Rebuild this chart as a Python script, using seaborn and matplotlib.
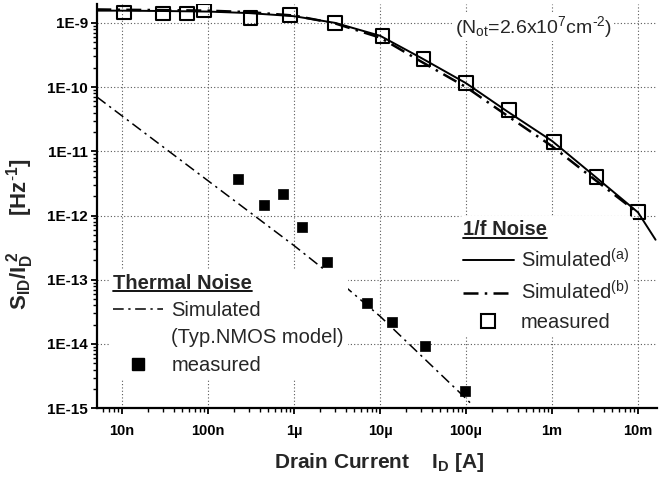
import matplotlib
matplotlib.use("Agg")
import matplotlib.pyplot as plt
from matplotlib.lines import Line2D
import seaborn as sns
import numpy as np
import pandas as pd

# ---- data ----
# 1/f noise, simulated (a) - solid
fa_x = [5e-9, 1e-8, 3e-8, 1e-7, 3e-7, 1e-6, 3e-6, 1e-5, 3e-5, 1e-4, 3e-4, 1e-3, 3e-3, 1e-2, 1.6e-2]
fa_y = [1.55e-9, 1.55e-9, 1.53e-9, 1.5e-9, 1.42e-9, 1.27e-9, 1.0e-9, 6.3e-10, 2.85e-10,
        1.15e-10, 4.2e-11, 1.45e-11, 4.3e-12, 1.12e-12, 4.2e-13]
# 1/f noise, simulated (b) - dash-dot
fb_x = [5e-9, 1e-8, 3e-8, 1e-7, 3e-7, 1e-6, 3e-6, 1e-5, 3e-5, 1e-4, 3e-4, 1e-3, 3e-3, 1e-2]
fb_y = [1.62e-9, 1.6e-9, 1.58e-9, 1.55e-9, 1.47e-9, 1.3e-9, 0.98e-9, 5.9e-10, 2.5e-10,
        1.0e-10, 3.6e-11, 1.2e-11, 3.8e-12, 1.1e-12]
# 1/f noise, measured - open squares
fm_x = [1.05e-8, 3.0e-8, 5.7e-8, 9.0e-8, 3.1e-7, 9.0e-7, 3.0e-6, 1.07e-5, 3.2e-5,
        1.0e-4, 3.16e-4, 1.05e-3, 3.3e-3, 1.0e-2]
fm_y = [1.45e-9, 1.4e-9, 1.4e-9, 1.55e-9, 1.2e-9, 1.33e-9, 1.0e-9, 6.3e-10, 2.75e-10,
        1.16e-10, 4.4e-11, 1.4e-11, 4.0e-12, 1.14e-12]
# thermal noise, simulated - thin dash-dot
th_x = [5.1e-9, 1e-7, 1e-6, 3.16e-6, 1e-5, 1e-4, 1.2e-4]
th_y = [7e-11, 3.47e-12, 3.4e-13, 1.0e-13, 2.7e-14, 1.41e-15, 1.1e-15]
# thermal noise, measured - filled squares
tm_x = [2.25e-7, 4.5e-7, 7.5e-7, 1.22e-6, 2.39e-6, 6.98e-6, 1.37e-5, 3.3e-5, 9.7e-5]
tm_y = [3.7e-12, 1.46e-12, 2.2e-12, 6.6e-13, 1.9e-13, 4.4e-14, 2.2e-14, 9.2e-15, 1.85e-15]

x_ticks = [1e-8, 1e-7, 1e-6, 1e-5, 1e-4, 1e-3, 1e-2]
x_labels = ["10n", "100n", "1µ", "10µ", "100µ", "1m", "10m"]
y_ticks = [1e-15, 1e-14, 1e-13, 1e-12, 1e-11, 1e-10, 1e-9]
y_labels = ["1E-15", "1E-14", "1E-13", "1E-12", "1E-11", "1E-10", "1E-9"]

# ---- style ----
sns.set_style("ticks")
plt.rcParams["font.family"] = ["Liberation Sans", "DejaVu Sans"]
plt.rcParams["mathtext.fontset"] = "custom"
plt.rcParams["mathtext.rm"] = "Liberation Sans"
plt.rcParams["mathtext.it"] = "Liberation Sans:italic"
plt.rcParams["mathtext.bf"] = "Liberation Sans:bold"

fig = plt.figure(figsize=(6.6, 4.78), dpi=100)
ax = fig.add_axes([0.147, 0.146, 0.848, 0.846])
ax.set_xscale("log")
ax.set_yscale("log")

dd_thick = (0, (6, 2.5, 1, 2.5))
dd_thin = (0, (7, 3, 1.5, 3))

sns.lineplot(x=th_x, y=th_y, ax=ax, color="black", lw=1.1, linestyle=dd_thin, sort=False, zorder=3)
sns.lineplot(x=fa_x, y=fa_y, ax=ax, color="black", lw=1.4, sort=False, zorder=3)
sns.lineplot(x=fb_x, y=fb_y, ax=ax, color="black", lw=1.8, linestyle=dd_thick, sort=False, zorder=3)
sns.scatterplot(x=fm_x, y=fm_y, ax=ax, marker="s", s=95, facecolor="none",
                edgecolor="black", linewidth=1.5, zorder=4)
sns.scatterplot(x=tm_x, y=tm_y, ax=ax, marker="s", s=62, color="black",
                edgecolor="black", linewidth=0.5, zorder=4)

ax.set_xlim(5.1e-9, 1.65e-2)
ax.set_ylim(1e-15, 1.98e-9)
ax.set_xticks(x_ticks, x_labels)
ax.set_yticks(y_ticks, y_labels)
for lab in ax.get_xticklabels():
    lab.set_fontweight("bold")
    lab.set_fontsize(10.5)
for lab in ax.get_yticklabels():
    lab.set_fontweight("bold")
    lab.set_fontsize(11)
ax.tick_params(axis="both", which="major", direction="out", length=4.5, width=1.3, colors="black")
ax.tick_params(axis="both", which="minor", direction="out", length=2.8, width=1.0, colors="black")
ax.tick_params(axis="x", which="major", pad=7)
ax.tick_params(axis="y", which="major", pad=2)

for s in ["top", "right"]:
    ax.spines[s].set_visible(False)
for s in ["left", "bottom"]:
    ax.spines[s].set_linewidth(1.6)
    ax.spines[s].set_color("black")

ax.grid(True, which="major", linestyle=(0, (1, 2)), color="0.35", lw=0.8)
ax.set_axisbelow(True)

ax.set_xlabel(r"Drain Current    I$_{\mathbf{D}}$ [A]", fontsize=15, fontweight="bold")
ax.xaxis.set_label_coords(0.505, -0.105)
ax.set_ylabel(r"S$_{\mathbf{ID}}$/I$_{\mathbf{D}}^{\ \mathbf{2}}$      [Hz$^{\mathbf{\text{-}1}}$]",
              fontsize=16, fontweight="bold")
ax.yaxis.set_label_coords(-0.109, 0.43)

ax.text(0.78, 0.943, r"(N$_{\mathrm{ot}}$=2.6x10$^{7}$cm$^{\text{-}2}$)", transform=ax.transAxes,
        fontsize=14, ha="center", va="center",
        bbox=dict(facecolor="white", edgecolor="none", pad=1), zorder=5)

# thermal noise legend
th_handles = [Line2D([], [], color="black", lw=1.1, linestyle=dd_thin),
              Line2D([], [], color="none"),
              Line2D([], [], color="black", marker="s", markersize=8, linestyle="none")]
th_labels = ["Simulated", "(Typ.NMOS model)", "measured"]
leg1 = ax.legend(th_handles, th_labels, loc="upper left", bbox_to_anchor=(0.021, 0.343),
                 title="Thermal Noise", alignment="left",
                 fontsize=14.5, title_fontproperties={"weight": "bold", "size": 14.5},
                 frameon=True, facecolor="white",
                 edgecolor="none", framealpha=1, handlelength=2.5, handletextpad=0.4,
                 labelspacing=0.42, borderpad=0.2, borderaxespad=0)
leg1.set_zorder(6)
ax.add_artist(leg1)

# 1/f noise legend
f_handles = [Line2D([], [], color="black", lw=1.4),
             Line2D([], [], color="black", lw=1.8, linestyle=dd_thick),
             Line2D([], [], color="black", marker="s", markersize=9.5, markerfacecolor="none",
                    markeredgewidth=1.5, linestyle="none")]
f_labels = [r"Simulated$^{\mathrm{(a)}}$", r"Simulated$^{\mathrm{(b)}}$", "measured"]
leg2 = ax.legend(f_handles, f_labels, loc="upper left", bbox_to_anchor=(0.647, 0.475),
                 title="1/f Noise", alignment="left",
                 fontsize=14.5, title_fontproperties={"weight": "bold", "size": 14.5},
                 frameon=True, facecolor="white",
                 edgecolor="none", framealpha=1, handlelength=2.5, handletextpad=0.35,
                 labelspacing=0.45, borderpad=0.2, borderaxespad=0)
leg2.set_zorder(6)

# underline the legend titles
fig.canvas.draw()
renderer = fig.canvas.get_renderer()
inv = fig.transFigure.inverted()
for leg in (leg1, leg2):
    bb = leg.get_title().get_window_extent(renderer)
    (x0, y0), (x1, _) = inv.transform([(bb.x0, bb.y0 + 1.5), (bb.x1, bb.y0 + 1.5)])
    fig.add_artist(Line2D([x0, x1], [y0, y0], color="black", lw=1.3,
                          transform=fig.transFigure, zorder=10))

fig.savefig("out.png", dpi=100)
